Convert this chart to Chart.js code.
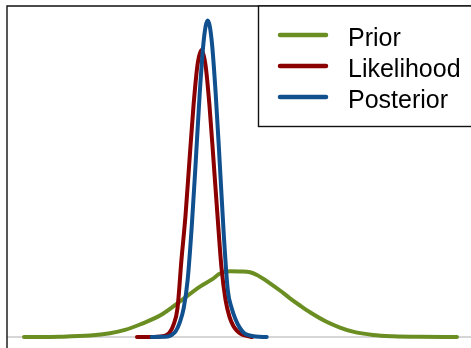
<!DOCTYPE html>
<html>
<head>
<meta charset="utf-8">
<script src="https://cdn.jsdelivr.net/npm/chart.js@4.4.1/dist/chart.umd.min.js"></script>
<style>
  html, body { margin: 0; padding: 0; background: #fff; overflow: hidden; }
  canvas { display: block; }
</style>
</head>
<body>
<canvas id="chart" width="471" height="348"></canvas>
<script>
const seriesLabels = ["Prior", "Likelihood", "Posterior"];
const seriesColors = ["#6b8e23", "#8b0000", "#11508f"];

// prior density (wide, slightly flat-topped)
const priorX = [-4.33, -3.61, -3.01, -2.61, -2.31, -2.01, -1.61, -1.21, -0.81, -0.57, -0.41,
                -0.21, -0.01, 0.19, 0.33, 0.59, 0.79, 0.99, 1.19, 1.39, 1.72, 1.99, 2.25,
                2.65, 3.05, 3.59, 4.33];
const priorY = [0, 0.002, 0.010, 0.026, 0.049, 0.087, 0.149, 0.247, 0.350, 0.400, 0.441,
                0.457, 0.455, 0.450, 0.431, 0.373, 0.323, 0.269, 0.219, 0.172, 0.106, 0.066, 0.037,
                0.014, 0.005, 0.001, 0];

// likelihood
const likeX = [-2.07, -1.74, -1.58, -1.50, -1.42, -1.34, -1.26, -1.18, -1.10, -1.02, -0.94, -0.86,
               -0.78, -0.70, -0.62, -0.54, -0.46, -0.38, -0.30, -0.22, -0.14, -0.06, 0.02, 0.14, 0.23];
const likeY = [0, 0.0005, 0.004, 0.010, 0.030, 0.085, 0.20, 0.54, 0.843, 1.230, 1.607, 1.890,
               1.994, 1.890, 1.607, 1.230, 0.843, 0.48, 0.26, 0.14, 0.075, 0.040, 0.020, 0.006, 0];

// posterior
const postX = [-1.776, -1.616, -1.456, -1.376, -1.296, -1.216, -1.136, -1.056, -0.976, -0.896, -0.816,
               -0.736, -0.656, -0.576, -0.496, -0.416, -0.336, -0.256, -0.176, -0.096, -0.016, 0.064,
               0.144, 0.304, 0.524];
const postY = [0, 0.001, 0.004, 0.014, 0.040, 0.10, 0.20, 0.40, 0.763, 1.214, 1.690,
               2.059, 2.200, 2.059, 1.690, 1.214, 0.72, 0.33, 0.20, 0.12, 0.065, 0.030,
               0.014, 0.003, 0];

const xRange = [-4.67, 4.61];
const yRange = [-0.0764, 2.3];

const zip = (xs, ys) => xs.map((x, i) => ({ x: x, y: ys[i] }));
const seriesData = [zip(priorX, priorY), zip(likeX, likeY), zip(postX, postY)];

// left/top frame edges and the zero line
const frame = {
  id: "frame",
  beforeDatasetsDraw(chart) {
    const { ctx, chartArea: { left, right, top, bottom }, scales: { y } } = chart;
    const y0 = y.getPixelForValue(0);
    ctx.save();
    ctx.strokeStyle = "#c8c8c8";
    ctx.lineWidth = 1.5;
    ctx.beginPath();
    ctx.moveTo(left, y0);
    ctx.lineTo(right, y0);
    ctx.stroke();

    ctx.strokeStyle = "#111";
    ctx.lineWidth = 1.4;
    ctx.beginPath();
    ctx.moveTo(left, bottom);
    ctx.lineTo(left, top);
    ctx.lineTo(right, top);
    ctx.stroke();
    ctx.restore();
  }
};

// legend in a bordered box in the upper right
const boxedLegend = {
  id: "boxedLegend",
  afterDatasetsDraw(chart) {
    const { ctx } = chart;
    ctx.save();
    ctx.fillStyle = "#fff";
    ctx.fillRect(258.5, 6, 240, 120.5);
    ctx.lineWidth = 1.4;
    ctx.strokeStyle = "#111";
    ctx.strokeRect(258.5, 6, 240, 120.5);
    ctx.font = '25px "Liberation Sans", Arial, sans-serif';
    ctx.textBaseline = "alphabetic";
    chart.data.datasets.forEach((ds, i) => {
      const y = 35 + i * 31;
      ctx.beginPath();
      ctx.lineWidth = 4.5;
      ctx.lineCap = "round";
      ctx.strokeStyle = ds.borderColor;
      ctx.moveTo(280, y);
      ctx.lineTo(326, y);
      ctx.stroke();
      ctx.fillStyle = "#000";
      ctx.fillText(ds.label, 348, y + 11);
    });
    ctx.restore();
  }
};

new Chart(document.getElementById("chart"), {
  type: "line",
  data: {
    datasets: seriesLabels.map((label, i) => ({
      label: label,
      data: seriesData[i],
      borderColor: seriesColors[i],
      backgroundColor: seriesColors[i],
      borderWidth: 4,
      borderCapStyle: "round",
      borderJoinStyle: "round",
      pointRadius: 0,
      fill: false,
      cubicInterpolationMode: "monotone",
      order: seriesLabels.length - i
    }))
  },
  options: {
    responsive: false,
    animation: false,
    devicePixelRatio: 1,
    layout: { padding: { left: 7, top: 6, right: 0, bottom: 0 } },
    scales: {
      x: { type: "linear", display: false, min: xRange[0], max: xRange[1] },
      y: { type: "linear", display: false, min: yRange[0], max: yRange[1] }
    },
    plugins: {
      legend: { display: false },
      tooltip: { enabled: false }
    }
  },
  plugins: [frame, boxedLegend]
});
</script>
</body>
</html>
